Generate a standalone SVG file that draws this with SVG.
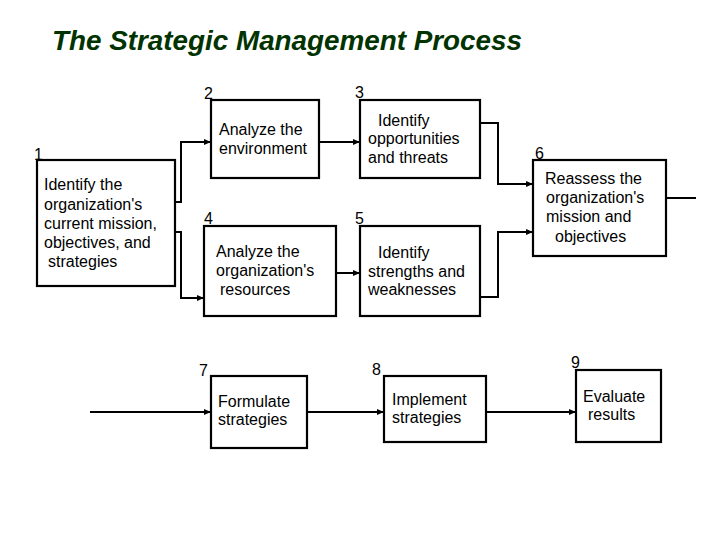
<svg xmlns="http://www.w3.org/2000/svg" width="720" height="540" viewBox="0 0 720 540">
<style>
.box{fill:#fff;stroke:#000;stroke-width:2.2}
.t{font-family:"Liberation Sans",Arial,sans-serif;font-size:16px;fill:#000}
.n{font-family:"Liberation Sans",Arial,sans-serif;font-size:16px;fill:#000}
.c{fill:none;stroke:#000;stroke-width:2}
.title{font-family:"Liberation Sans",Arial,sans-serif;font-size:27px;font-weight:bold;font-style:italic;fill:#003300}
</style>
<defs>
<marker id="ah" markerUnits="userSpaceOnUse" markerWidth="7" markerHeight="7" refX="7" refY="3.5" orient="auto">
<path d="M0,0.5 L7,3.5 L0,6.5 z" fill="#000"/>
</marker>
</defs>
<rect width="720" height="540" fill="#fff"/>
<text class="title" x="52" y="50" textLength="470" lengthAdjust="spacingAndGlyphs">The Strategic Management Process</text>

<g id="connectors">
<path class="c" d="M175,202 H181 V142 H211" marker-end="url(#ah)"/>
<path class="c" d="M175,232 H181 V298 H204" marker-end="url(#ah)"/>
<path class="c" d="M319,142 H360" marker-end="url(#ah)"/>
<path class="c" d="M336,273 H360" marker-end="url(#ah)"/>
<path class="c" d="M480,123 H498 V184 H533" marker-end="url(#ah)"/>
<path class="c" d="M480,297 H498 V232 H533" marker-end="url(#ah)"/>
<path class="c" d="M666,198 H696"/>
<path class="c" d="M90,412 H211" marker-end="url(#ah)"/>
<path class="c" d="M307,412 H384" marker-end="url(#ah)"/>
<path class="c" d="M486,412 H576" marker-end="url(#ah)"/>
</g>

<g id="node1">
<rect class="box" x="37" y="160" width="138" height="126"/>
<text class="n" x="34" y="160">1</text>
<text class="t" x="44" y="190">Identify the</text>
<text class="t" x="44" y="210">organization's</text>
<text class="t" x="44" y="229">current mission,</text>
<text class="t" x="44" y="248">objectives, and</text>
<text class="t" x="48" y="267">strategies</text>
</g>
<g id="node2">
<rect class="box" x="211" y="100" width="108" height="78"/>
<text class="n" x="204" y="99">2</text>
<text class="t" x="219" y="135">Analyze the</text>
<text class="t" x="219" y="154">environment</text>
</g>
<g id="node3">
<rect class="box" x="360" y="100" width="120" height="78"/>
<text class="n" x="355" y="98">3</text>
<text class="t" x="378" y="126">Identify</text>
<text class="t" x="368" y="144">opportunities</text>
<text class="t" x="368" y="163">and threats</text>
</g>
<g id="node4">
<rect class="box" x="204" y="226" width="132" height="90"/>
<text class="n" x="204" y="224">4</text>
<text class="t" x="216" y="257">Analyze the</text>
<text class="t" x="216" y="276">organization's</text>
<text class="t" x="220" y="295">resources</text>
</g>
<g id="node5">
<rect class="box" x="360" y="226" width="120" height="90"/>
<text class="n" x="355" y="224">5</text>
<text class="t" x="378" y="258">Identify</text>
<text class="t" x="368" y="277">strengths and</text>
<text class="t" x="368" y="295">weaknesses</text>
</g>
<g id="node6">
<rect class="box" x="533" y="160" width="133" height="96"/>
<text class="n" x="535" y="159">6</text>
<text class="t" x="545" y="184">Reassess the</text>
<text class="t" x="546" y="203">organization's</text>
<text class="t" x="546" y="222">mission and</text>
<text class="t" x="555" y="242">objectives</text>
</g>
<g id="node7">
<rect class="box" x="211" y="376" width="96" height="72"/>
<text class="n" x="199" y="376">7</text>
<text class="t" x="218" y="407">Formulate</text>
<text class="t" x="218" y="425">strategies</text>
</g>
<g id="node8">
<rect class="box" x="384" y="376" width="102" height="66"/>
<text class="n" x="372" y="375">8</text>
<text class="t" x="392" y="405">Implement</text>
<text class="t" x="392" y="423">strategies</text>
</g>
<g id="node9">
<rect class="box" x="576" y="370" width="85" height="72"/>
<text class="n" x="571" y="368">9</text>
<text class="t" x="583" y="402">Evaluate</text>
<text class="t" x="588" y="420">results</text>
</g>
</svg>
